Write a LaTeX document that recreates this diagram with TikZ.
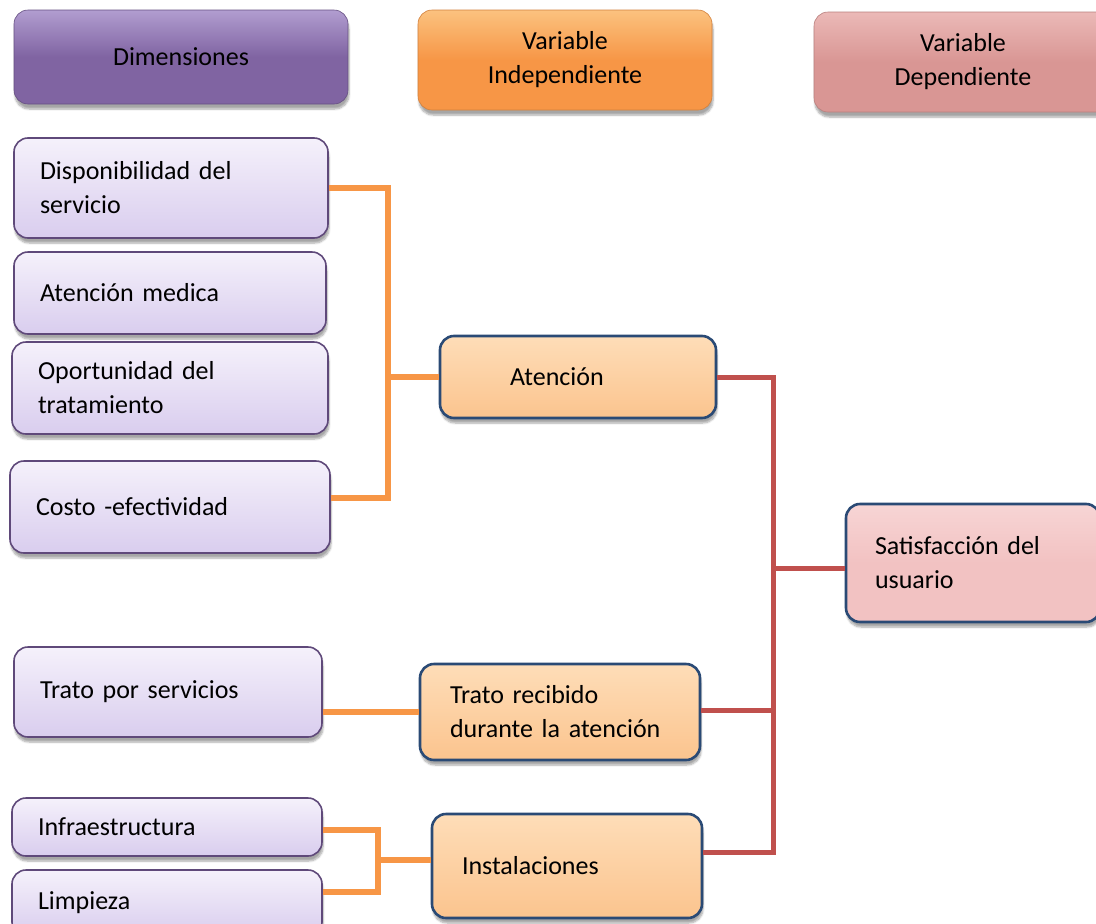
\documentclass[tikz,border=0pt]{standalone}
\usepackage{fontspec}
\setmainfont{Carlito}
\usetikzlibrary{shadows.blur}
\definecolor{hpurT}{HTML}{B19DD0}
\definecolor{hpur}{HTML}{8064A2}
\definecolor{horT}{HTML}{FBC27F}
\definecolor{hor}{HTML}{F79646}
\definecolor{hpkT}{HTML}{EBB9B7}
\definecolor{hpk}{HTML}{D99694}
\definecolor{lavT}{HTML}{F5F1FB}
\definecolor{lavB}{HTML}{D9CDEE}
\definecolor{lavD}{HTML}{5F497A}
\definecolor{lorT}{HTML}{FEDDB8}
\definecolor{lorB}{HTML}{FBC48E}
\definecolor{navy}{HTML}{2A4A75}
\definecolor{lpk}{HTML}{F2C2C2}
\definecolor{lpkT}{HTML}{F7D5D5}
\definecolor{oline}{HTML}{F79646}
\definecolor{rline}{HTML}{C0504D}
\begin{document}
\begin{tikzpicture}[x=1pt,y=-1pt,
  base/.style={rounded corners=14pt, inner ysep=0pt,
    font=\fontsize{26}{34}\selectfont,
    blur shadow={shadow xshift=1pt,shadow yshift=-5pt,shadow blur steps=6,shadow opacity=35}},
  headbox/.style={base, align=center},
  purhead/.style={headbox, top color=hpurT, bottom color=hpur, middle color=hpur, draw=hpur!80!black, line width=0.6pt},
  orhead/.style={headbox, top color=horT, bottom color=hor, middle color=hor, draw=hor!85!black, line width=0.6pt},
  pkhead/.style={headbox, top color=hpkT, bottom color=hpk, middle color=hpk, draw=hpk!85!black, line width=0.6pt},
  lavbox/.style={base, align=left, inner xsep=26pt, top color=lavT, bottom color=lavB, draw=lavD, line width=1.6pt},
  orbox/.style={base, align=left, top color=lorT, bottom color=lorB, draw=navy, line width=2.6pt},
  pkbox/.style={base, align=left, inner xsep=29pt, top color=lpkT, bottom color=lpk, middle color=lpk, draw=navy, line width=2.6pt},
  oconn/.style={draw=oline, line width=6pt},
  rconn/.style={draw=rline, line width=5pt}
]
\useasboundingbox (0,0) rectangle (1096,924);

% headers
\node[purhead, minimum width=334pt, minimum height=94pt] (hdim) at (181,57) {Dimensiones};
\node[orhead, minimum width=294pt, minimum height=100pt] (hind) at (565,60) {Variable\\Independiente};
\node[pkhead, minimum width=298pt, minimum height=100pt] (hdep) at (963,62) {Variable\\Dependiente};

% dimensions
\node[lavbox, minimum width=314pt, minimum height=100pt, text width=262pt] (disp) at (171,188) {Disponibilidad del\\servicio};
\node[lavbox, minimum width=312pt, minimum height=82pt, text width=260pt] (atm) at (170,293) {Atención medica};
\node[lavbox, minimum width=316pt, minimum height=92pt, text width=264pt] (opor) at (170,388) {Oportunidad del\\tratamiento};
\node[lavbox, minimum width=320pt, minimum height=92pt, text width=268pt] (cost) at (170,507) {Costo -efectividad};
\node[lavbox, minimum width=308pt, minimum height=90pt, text width=256pt] (trp) at (168,692) {Trato por servicios};
\node[lavbox, minimum width=310pt, minimum height=58pt, text width=258pt] (infra) at (167,827) {Infraestructura};
\node[lavbox, minimum width=310pt, minimum height=66pt, text width=258pt] (limp) at (167,903) {Limpieza};

% independent
\node[orbox, inner xsep=70pt, minimum width=276pt, minimum height=82pt, text width=136pt] (aten) at (578,377) {Atención};
\node[orbox, inner xsep=30pt, minimum width=280pt, minimum height=96pt, text width=220pt] (trr) at (560,712) {Trato recibido\\durante la atención};
\node[orbox, inner xsep=30pt, minimum width=270pt, minimum height=104pt, text width=210pt] (inst) at (567,866) {Instalaciones};

% dependent
\node[pkbox, minimum width=254pt, minimum height=118pt, text width=196pt] (sat) at (973,563) {Satisfacción del\\usuario};

% orange connectors
\coordinate (ja) at (388,377);
\coordinate (jb) at (378,860);
\draw[oconn] (disp.east) -| (ja);
\draw[oconn] ([yshift=9pt]cost.east) -| (ja);
\draw[oconn] (ja) -- (aten.west);
\draw[oconn] (trr.west) -- (trr.west -| trp.east);
\draw[oconn] ([yshift=-3pt]infra.east) -| (jb);
\draw[oconn] ([yshift=11pt]limp.east) -| (jb);
\draw[oconn] (jb) -- (jb -| inst.west);

% red connectors
\coordinate (jr) at (773,568);
\draw[rconn] (aten.east) -| (jr);
\draw[rconn] ([yshift=14pt]inst.east) -| (jr);
\draw[rconn] ([yshift=2pt]trr.east) -| (jr);
\draw[rconn] (jr) -- (jr -| sat.west);
\end{tikzpicture}
\end{document}
